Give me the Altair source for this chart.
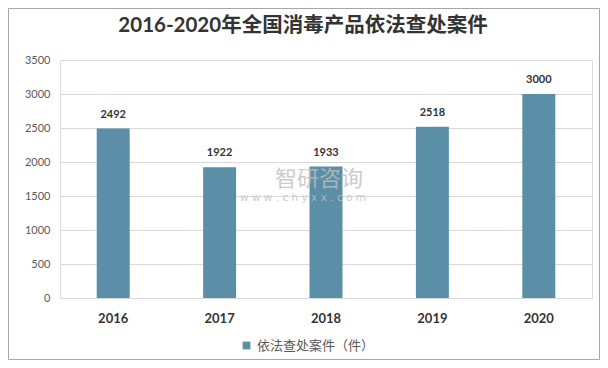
import altair as alt
import pandas as pd

years = ["2016", "2017", "2018", "2019", "2020"]
cases = [2492, 1922, 1933, 2518, 3000]
y_ticks = [0, 500, 1000, 1500, 2000, 2500, 3000, 3500]
series_name = "依法查处案件（件）"
title_text = "2016-2020年全国消毒产品依法查处案件"
watermark_cn = "智研咨询"
watermark_url = "w w w . c h y x x . c o m"

BAR = "#5B8FA7"
NUM_FONT = "Lato, 'Noto Sans CJK SC'"
CJK_FONT = "'Noto Sans CJK SC', Lato"

df = pd.DataFrame({"year": years, "cases": cases, "series": [series_name] * len(years)})

W, H = 532, 238

x_enc = alt.X(
    "year:N",
    sort=years,
    title=None,
    scale=alt.Scale(paddingInner=0.69, paddingOuter=0.345),
    axis=alt.Axis(
        labelAngle=0,
        labelFont=NUM_FONT,
        labelFontSize=13,
        labelFontWeight="bold",
        labelColor="#333333",
        labelPadding=14,
        ticks=False,
        domainColor="#d9d9d9",
        grid=False,
    ),
)
y_enc = alt.Y(
    "cases:Q",
    title=None,
    scale=alt.Scale(domain=[0, 3500], nice=False),
    axis=alt.Axis(
        values=y_ticks,
        format="d",
        labelOverlap=False,
        labelFont=NUM_FONT,
        labelFontSize=11,
        labelColor="#595959",
        labelPadding=10,
        ticks=False,
        domain=False,
        gridColor="#d9d9d9",
    ),
)

bars = alt.Chart(df).mark_bar().encode(
    x=x_enc,
    y=y_enc,
    color=alt.Color(
        "series:N",
        scale=alt.Scale(domain=[series_name], range=[BAR]),
        legend=alt.Legend(
            title=None,
            orient="none",
            legendX=180,
            legendY=279,
            symbolType="square",
            symbolSize=60,
            labelFont=CJK_FONT,
            labelFontSize=13,
            labelColor="#595959",
        ),
    ),
)

labels = alt.Chart(df).mark_text(
    dy=-14, font=NUM_FONT, fontSize=11, fontWeight="bold", color="#333333", baseline="middle"
).encode(x=x_enc, y=y_enc, text="cases:Q")

wm_df = pd.DataFrame({"t": [watermark_cn]})
wm1 = alt.Chart(wm_df).mark_text(
    font=CJK_FONT, fontSize=22, color="#bfbfbf", opacity=0.8, baseline="middle", align="center"
).encode(x=alt.value(259), y=alt.value(119), text="t:N")

wm2_df = pd.DataFrame({"t": [watermark_url]})
wm2 = alt.Chart(wm2_df).mark_text(
    font="'DejaVu Sans'", fontSize=10.5, color="#bfbfbf", opacity=0.8, baseline="middle", align="center"
).encode(x=alt.value(243), y=alt.value(138), text="t:N")

title_df = pd.DataFrame({"t": [title_text]})
title = alt.Chart(title_df).mark_text(
    font=NUM_FONT, fontSize=20.5, fontWeight="bold", color="#333333", baseline="middle", align="center"
).encode(x=alt.value(243), y=alt.value(-34), text="t:N")

border = alt.Chart(title_df).mark_rect(fill=None, stroke="#a6a6a6", strokeWidth=1).encode(
    x=alt.value(-51.5), x2=alt.value(W + 7.5), y=alt.value(-51.5), y2=alt.value(H + 61.5)
)

chart = (
    alt.layer(bars, labels, wm1, wm2, title, border)
    .properties(
        width=W,
        height=H,
        autosize=alt.AutoSizeParams(type="none"),
        padding={"left": 52, "top": 52, "right": 8, "bottom": 62},
    )
    .configure_view(stroke=None)
    .configure(background="white")
)

chart.save("out.html", embed_options={"renderer": "svg", "actions": False})
